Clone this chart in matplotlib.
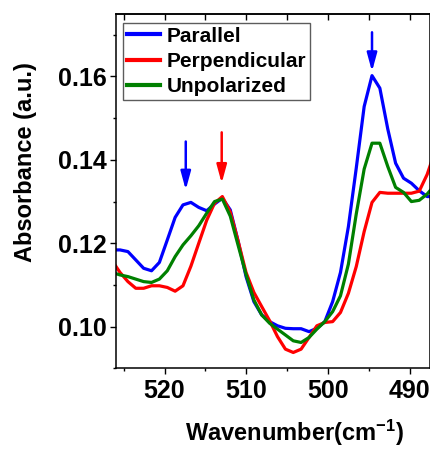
import matplotlib
matplotlib.use("Agg")
import matplotlib.pyplot as plt
from matplotlib.ticker import MultipleLocator

plt.rcParams['font.family'] = ['Liberation Sans', 'DejaVu Sans']
plt.rcParams['font.weight'] = 'bold'
plt.rcParams['mathtext.fontset'] = 'custom'
plt.rcParams['mathtext.rm'] = 'Liberation Sans:bold'
plt.rcParams['mathtext.bf'] = 'Liberation Sans:bold'
plt.rcParams['mathtext.it'] = 'Liberation Sans:bold'

wavenumber = [526.41, 525.45, 524.48, 523.52, 522.56, 521.59, 520.63, 519.66,
              518.70, 517.74, 516.77, 515.81, 514.84, 513.88, 512.92, 511.95,
              510.99, 510.02, 509.06, 508.10, 507.13, 506.17, 505.20, 504.24,
              503.28, 502.31, 501.35, 500.38, 499.42, 498.46, 497.49, 496.53,
              495.56, 494.60, 493.64, 492.67, 491.71, 490.74, 489.78, 488.82,
              487.85, 486.89]

parallel = [0.1184, 0.1184, 0.1180, 0.1160, 0.1140, 0.1134, 0.1154, 0.1208,
            0.1262, 0.1292, 0.1298, 0.1286, 0.1278, 0.1294, 0.1308, 0.1280,
            0.1205, 0.1120, 0.1060, 0.1028, 0.1012, 0.1002, 0.0996, 0.0995,
            0.0995, 0.0988, 0.0996, 0.1012, 0.1060, 0.1130, 0.1240, 0.1380,
            0.1528, 0.1602, 0.1572, 0.1474, 0.1392, 0.1356, 0.1344, 0.1326,
            0.1312, 0.1312]

perpendicular = [0.1158, 0.1130, 0.1108, 0.1092, 0.1092, 0.1098, 0.1098, 0.1094,
                 0.1085, 0.1098, 0.1145, 0.1200, 0.1255, 0.1296, 0.1312, 0.1275,
                 0.1205, 0.1130, 0.1082, 0.1048, 0.1014, 0.0976, 0.0946, 0.0938,
                 0.0946, 0.0974, 0.1002, 0.1010, 0.1012, 0.1034, 0.1080, 0.1144,
                 0.1228, 0.1298, 0.1322, 0.1320, 0.1320, 0.1320, 0.1320, 0.1325,
                 0.1365, 0.1420]

unpolarized = [0.1130, 0.1124, 0.1120, 0.1114, 0.1108, 0.1106, 0.1114, 0.1134,
               0.1168, 0.1196, 0.1218, 0.1242, 0.1272, 0.1300, 0.1306, 0.1265,
               0.1195, 0.1125, 0.1064, 0.1028, 0.1008, 0.0994, 0.0980, 0.0966,
               0.0962, 0.0974, 0.0994, 0.1012, 0.1036, 0.1074, 0.1150, 0.1270,
               0.1378, 0.1440, 0.1440, 0.1384, 0.1334, 0.1322, 0.1300, 0.1303,
               0.1318, 0.1340]

series_labels = ["Parallel", "Perpendicular", "Unpolarized"]
series_colors = ["#0000FF", "#FF0000", "#008000"]

# arrows: (x, tail y, tip y, color)
arrow_x = [517.4, 513.0, 494.6]
arrow_tail = [0.1444, 0.1466, 0.1706]
arrow_tip = [0.1328, 0.1344, 0.1612]
arrow_colors = ["#0000FF", "#FF0000", "#0000FF"]

fig = plt.figure(figsize=(4.31, 4.50), dpi=100)
ax = fig.add_axes([0.268, 0.1815, 0.7297, 0.7875])

for ys, lab, col in zip([parallel, perpendicular, unpolarized], series_labels, series_colors):
    ax.plot(wavenumber, ys, color=col, lw=2.3, label=lab, solid_joinstyle='round')

for xa, yt, yh, c in zip(arrow_x, arrow_tail, arrow_tip, arrow_colors):
    ax.annotate("", xy=(xa, yh), xytext=(xa, yt),
                arrowprops=dict(arrowstyle='-|>,head_length=1.1,head_width=0.3',
                                color=c, lw=1.8, shrinkA=0, shrinkB=0))

ax.set_xlim(526.0, 487.5)
ax.set_ylim(0.090, 0.175)
ax.xaxis.set_major_locator(MultipleLocator(10))
ax.xaxis.set_minor_locator(MultipleLocator(5))
ax.yaxis.set_major_locator(MultipleLocator(0.02))
ax.yaxis.set_minor_locator(MultipleLocator(0.01))
ax.yaxis.set_major_formatter(matplotlib.ticker.FormatStrFormatter('%.2f'))

for s in ax.spines.values():
    s.set_linewidth(1.1)

ax.tick_params(axis='both', which='both', width=1.0, labelsize=18)
ax.tick_params(axis='x', which='major', direction='out', length=4, pad=4, top=False)
ax.tick_params(axis='x', which='minor', direction='out', length=2.5, top=False)
ax.tick_params(axis='y', which='major', direction='out', length=4, pad=2.5)
ax.tick_params(axis='y', which='minor', direction='out', length=2.5)

# top ticks inward
secx = ax.secondary_xaxis('top')
secx.xaxis.set_major_locator(MultipleLocator(10))
secx.xaxis.set_minor_locator(MultipleLocator(5))
secx.tick_params(axis='x', which='major', direction='in', length=4, width=1.0, labeltop=False)
secx.tick_params(axis='x', which='minor', direction='in', length=4, width=1.0)
secx.set_xticklabels([])
secx.spines['top'].set_linewidth(1.1)

for lbl in ax.get_xticklabels() + ax.get_yticklabels():
    lbl.set_fontweight('bold')

leg = ax.legend(loc='upper left', bbox_to_anchor=(0.025, 0.974), borderaxespad=0,
                frameon=True, fancybox=False, edgecolor='#333333',
                prop={'size': 15, 'weight': 'bold'}, handlelength=1.6,
                handletextpad=0.3, labelspacing=0.3, borderpad=0.17)
leg.get_frame().set_linewidth(1.0)
for h in leg.get_lines():
    h.set_linewidth(3)

fig.text(294 / 431, 1 - 433 / 450, r'Wavenumber(cm$^{-1}$)', ha='center', va='center',
         fontsize=17, fontweight='bold')
fig.text(26 / 431, 1 - 162 / 450, 'Absorbance (a.u.)', ha='center', va='center',
         rotation=90, fontsize=17, fontweight='bold')

fig.savefig('out.png', dpi=100)
